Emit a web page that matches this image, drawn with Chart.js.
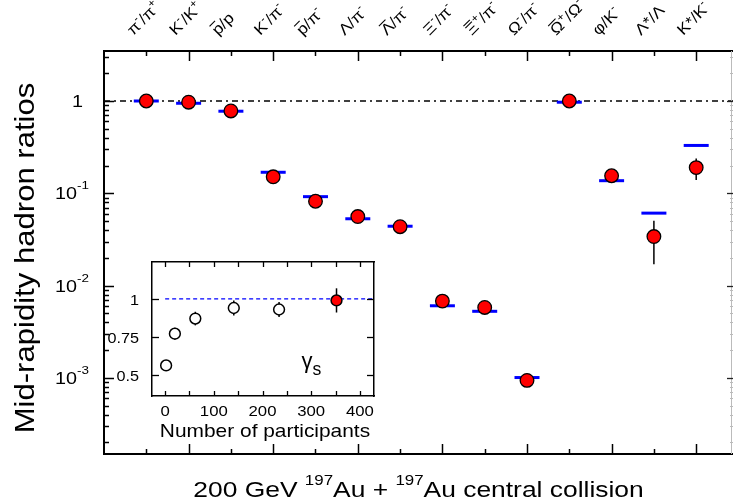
<!DOCTYPE html>
<html><head><meta charset="utf-8">
<script src="https://cdn.jsdelivr.net/npm/chart.js@4.4.1/dist/chart.umd.min.js"></script>
<style>
html,body{margin:0;padding:0;background:#fff;}
#wrap{position:relative;width:733px;height:503px;overflow:hidden;}
#main{position:absolute;left:0;top:0;}
#inset{position:absolute;left:106px;top:248px;}
</style></head><body>
<div id="wrap">
<canvas id="main" width="733" height="503"></canvas>
<canvas id="inset" width="290" height="200"></canvas>
</div>
<script>
// ---------------- data ----------------
const categories = ['π^-/π^+','K^-/K^+','~p/p','K^-/π^-','~p/π^-','Λ/π^-','~Λ/π^-','Ξ^-/π^-','~Ξ^+/π^-','Ω^-/π^-','~Ω^+/Ω^-','φ/K^-','Λ*/Λ','K*/K^-'];
const measuredRatios = [1.0, 0.97, 0.78, 0.151, 0.082, 0.056, 0.0435, 0.0068, 0.0058, 0.00094, 1.0, 0.155, 0.034, 0.19];
const measuredLow    = [0.96, 0.93, 0.74, 0.141, 0.076, 0.052, 0.040, 0.0063, 0.0053, 0.00086, 0.93, 0.145, 0.017, 0.139];
const measuredHigh   = [1.04, 1.01, 0.82, 0.161, 0.088, 0.060, 0.047, 0.0073, 0.0063, 0.00102, 1.07, 0.165, 0.0505, 0.239];
const modelRatios    = [1.0, 0.945, 0.775, 0.169, 0.092, 0.053, 0.044, 0.00605, 0.00527, 0.00101, 0.97, 0.137, 0.061, 0.33];
const yTickValues = [1, 0.1, 0.01, 0.001];
const yTickLabels = ['1', '10^{-1}', '10^{-2}', '10^{-3}'];
const xTitle = '200 GeV ^{197}Au + ^{197}Au central collision';
const yTitle = 'Mid-rapidity hadron ratios';

const nPart    = [2, 20, 62, 141, 234, 352];
const gammaS   = [0.56, 0.77, 0.87, 0.94, 0.93, 0.99];
const gammaErr = [0.02, 0.04, 0.045, 0.05, 0.05, 0.08];
const insetXTicks = [0, 100, 200, 300, 400];
const insetYTicks = [0.5, 0.75, 1];
const insetYTickLabels = ['0.5', '0.75', '1'];
const insetXTitle = 'Number of participants';
const insetLabel = 'γ_s';

// ---------------- rich text ----------------
const FAM = '"Liberation Sans", Arial, Helvetica, sans-serif';
function parseRich(s){
  const segs=[]; let i=0;
  while(i<s.length){
    let c=s[i];
    if(c==='^'||c==='_'){
      const type=c==='^'?'sup':'sub'; i++;
      let t;
      if(s[i]==='{'){const j=s.indexOf('}',i); t=s.slice(i+1,j); i=j+1;} else {t=s[i]; i++;}
      segs.push({t,type,bar:false}); continue;
    }
    let bar=false;
    if(c==='~'){bar=true; i++; c=s[i];}
    const last=segs[segs.length-1];
    if(!bar && last && last.type==='n' && !last.bar) last.t+=c;
    else segs.push({t:c,type:'n',bar});
    i++;
  }
  return segs;
}
function drawRich(ctx,str,x,y,o){
  const segs=parseRich(str);
  const size=o.size, ss=size*(o.supScale||0.65);
  let w=0;
  segs.forEach(sg=>{ctx.font=(sg.type==='n'?size:ss)+'px '+FAM; sg.w=ctx.measureText(sg.t).width; w+=sg.w;});
  ctx.save();
  ctx.translate(x,y);
  if(o.rot) ctx.rotate(o.rot);
  ctx.scale(o.sx||1,1);
  let cx=o.align==='right'?-w:(o.align==='center'?-w/2:0);
  ctx.fillStyle=o.color||'#000';
  ctx.textAlign='left'; ctx.textBaseline='alphabetic';
  segs.forEach(sg=>{
    ctx.font=(sg.type==='n'?size:ss)+'px '+FAM;
    const dy=sg.type==='sup'?-size*(o.supRise||0.45):(sg.type==='sub'?size*(o.subDrop||0.25):0);
    ctx.fillText(sg.t,cx,dy);
    if(sg.bar){ctx.fillRect(cx+sg.w*0.1,-size*0.86,sg.w*0.8,Math.max(1,size*0.07));}
    cx+=sg.w;
  });
  ctx.restore();
}
function seg(ctx,x1,y1,x2,y2){ctx.beginPath();ctx.moveTo(x1,y1);ctx.lineTo(x2,y2);ctx.stroke();}

// ---------------- main chart ----------------
const X_MAX = 14.87, Y_MIN = 1.5e-4, Y_MAX = 3.48;
const mainDecor = {
  id:'mainDecor',
  beforeDatasetsDraw(chart){
    const ctx=chart.ctx, xs=chart.scales.x, ys=chart.scales.y;
    ctx.save(); ctx.strokeStyle='#000'; ctx.lineWidth=1.5;
    measuredRatios.forEach((v,i)=>{
      const px=xs.getPixelForValue(i+1);
      seg(ctx,px,ys.getPixelForValue(measuredLow[i]),px,ys.getPixelForValue(measuredHigh[i]));
    });
    ctx.restore();
  },
  afterDraw(chart){
    const ctx=chart.ctx, xs=chart.scales.x, ys=chart.scales.y, ca=chart.chartArea;
    ctx.save();
    ctx.strokeStyle='#000'; ctx.lineWidth=1.5;
    for(let i=1;i<=categories.length;i++){
      const px=Math.round(xs.getPixelForValue(i))+0.5;
      const L=(i%2===0)?10:5;
      seg(ctx,px,ca.top,px,ca.top+L);
      seg(ctx,px,ca.bottom,px,ca.bottom-L);
    }
    // right axis (faint)
    ctx.strokeStyle='#bbb'; ctx.lineWidth=1;
    seg(ctx,ca.right-1.5,ca.top,ca.right-1.5,ca.bottom);
    for(let e=-4;e<=0;e++){
      for(let m=1;m<=9;m++){
        const v=m*Math.pow(10,e);
        if(v<Y_MIN||v>Y_MAX) continue;
        const py=Math.round(ys.getPixelForValue(v))+0.5;
        ctx.strokeStyle='#000'; ctx.lineWidth=1.5;
        seg(ctx,ca.left,py,ca.left+(m===1?10:5),py);
        if(m===1){ctx.strokeStyle='#222';ctx.lineWidth=1.3;seg(ctx,ca.right,py,ca.right-6,py);}
        else {ctx.strokeStyle='#bbb';ctx.lineWidth=1;seg(ctx,ca.right,py,ca.right-3,py);}
      }
    }
    // y tick labels
    yTickValues.forEach((v,i)=>{
      const py=ys.getPixelForValue(v);
      const lab=yTickLabels[i];
      if(lab.indexOf('^')>=0) drawRich(ctx,lab,55,py+6,{size:16.5,sx:1.2,supScale:0.68,supRise:0.6});
      else drawRich(ctx,lab,83,py+6,{size:16.5,sx:1.2,align:'right'});
    });
    // top category labels
    categories.forEach((c,i)=>{
      const px=xs.getPixelForValue(i+1);
      drawRich(ctx,c,px-13,36,{size:15.5,sx:1.12,rot:-Math.PI/4,supScale:0.68,supRise:0.45});
    });
    // titles
    drawRich(ctx,xTitle,(ca.left+ca.right)/2,497,{size:22,sx:1.2,align:'center',supScale:0.64,supRise:0.55});
    drawRich(ctx,yTitle,33.5,258,{size:28,sx:1.11,align:'center',rot:-Math.PI/2});
    ctx.restore();
  }
};
const brd = {display:true,color:'#000',width:2};
const noGrid = {display:false,drawTicks:false,tickLength:0};
new Chart(document.getElementById('main'),{
  type:'scatter',
  data:{datasets:[
    {label:'Measured',data:measuredRatios.map((v,i)=>({x:i+1,y:v})),pointRadius:6.8,pointHoverRadius:6.8,
     pointBackgroundColor:'#ff0000',pointBorderColor:'#000',pointBorderWidth:1.3,order:0},
    {label:'Thermal model',data:modelRatios.map((v,i)=>({x:i+1,y:v})),pointStyle:'line',pointRadius:12.5,pointHoverRadius:12.5,
     pointBorderColor:'#0000ff',pointBorderWidth:3,order:1},
    {type:'line',label:'unity',data:[{x:0,y:1},{x:X_MAX,y:1}],borderColor:'#000',borderWidth:1.4,
     borderDash:[6,4,2,4],pointRadius:0,order:2}
  ]},
  options:{
    responsive:false,animation:false,devicePixelRatio:1,
    layout:{autoPadding:false,padding:{left:104,top:51,right:0,bottom:49}},
    plugins:{legend:{display:false},tooltip:{enabled:false}},
    scales:{
      x:{type:'linear',position:'bottom',min:0,max:X_MAX,ticks:{display:false},grid:noGrid,border:brd},
      xTop:{type:'linear',position:'top',min:0,max:X_MAX,ticks:{display:false},grid:noGrid,border:brd},
      y:{type:'logarithmic',position:'left',min:Y_MIN,max:Y_MAX,ticks:{display:false},grid:noGrid,border:brd}
    }
  },
  plugins:[mainDecor]
});

// ---------------- inset ----------------
const IX_MIN=-27, IX_MAX=429, IY_MIN=0.358, IY_MAX=1.244;
const insetDecor = {
  id:'insetDecor',
  beforeDraw(chart){
    const ctx=chart.ctx, ca=chart.chartArea;
    ctx.save(); ctx.fillStyle='#fff'; ctx.fillRect(ca.left,ca.top,ca.right-ca.left,ca.bottom-ca.top); ctx.restore();
  },
  beforeDatasetsDraw(chart){
    const ctx=chart.ctx, xs=chart.scales.x, ys=chart.scales.y;
    ctx.save(); ctx.strokeStyle='#000'; ctx.lineWidth=1.5;
    nPart.forEach((n,i)=>{
      const px=xs.getPixelForValue(n);
      seg(ctx,px,ys.getPixelForValue(gammaS[i]-gammaErr[i]),px,ys.getPixelForValue(gammaS[i]+gammaErr[i]));
    });
    ctx.restore();
  },
  afterDraw(chart){
    const ctx=chart.ctx, xs=chart.scales.x, ys=chart.scales.y, ca=chart.chartArea;
    ctx.save(); ctx.strokeStyle='#000'; ctx.lineWidth=1.3;
    for(let v=0;v<=400;v+=50){
      const px=Math.round(xs.getPixelForValue(v))+0.5;
      seg(ctx,px,ca.bottom,px,ca.bottom-5);
      seg(ctx,px,ca.top,px,ca.top+5);
    }
    insetYTicks.forEach((v,i)=>{
      const py=Math.round(ys.getPixelForValue(v))+0.5;
      seg(ctx,ca.left,py,ca.left+7,py);
      seg(ctx,ca.right,py,ca.right-7,py);
      drawRich(ctx,insetYTickLabels[i],ca.left-13,py+5.5,{size:15,sx:1.08,align:'right'});
    });
    insetXTicks.forEach(v=>{
      drawRich(ctx,String(v),xs.getPixelForValue(v),168,{size:15.5,sx:1.08,align:'center'});
    });
    drawRich(ctx,insetXTitle,(ca.left+ca.right)/2+2,189,{size:19,sx:1.1,align:'center'});
    drawRich(ctx,insetLabel,xs.getPixelForValue(280),120,{size:22,supScale:0.8,subDrop:0.3});
    ctx.restore();
  }
};
const ibrd = {display:true,color:'#000',width:1.5};
new Chart(document.getElementById('inset'),{
  type:'scatter',
  data:{datasets:[
    {label:'gamma_s',data:nPart.map((n,i)=>({x:n,y:gammaS[i]})),pointRadius:5.4,pointHoverRadius:5.4,pointBorderWidth:1.5,
     pointBorderColor:'#000',pointBackgroundColor:c=>c.dataIndex===nPart.length-1?'#ff0000':'#ffffff',order:0},
    {type:'line',label:'unity',data:[{x:0,y:1},{x:IX_MAX,y:1}],borderColor:'#0000ff',borderWidth:1.2,
     borderDash:[4,3],pointRadius:0,order:1}
  ]},
  options:{
    responsive:false,animation:false,devicePixelRatio:1,
    layout:{autoPadding:false,padding:{left:46,top:14,right:22,bottom:52}},
    plugins:{legend:{display:false},tooltip:{enabled:false}},
    scales:{
      x:{type:'linear',position:'bottom',min:IX_MIN,max:IX_MAX,ticks:{display:false},grid:noGrid,border:ibrd},
      xTop:{type:'linear',position:'top',min:IX_MIN,max:IX_MAX,ticks:{display:false},grid:noGrid,border:ibrd},
      y:{type:'linear',position:'left',min:IY_MIN,max:IY_MAX,ticks:{display:false},grid:noGrid,border:ibrd},
      yRight:{type:'linear',position:'right',min:IY_MIN,max:IY_MAX,ticks:{display:false},grid:noGrid,border:ibrd}
    }
  },
  plugins:[insetDecor]
});
</script>
</body></html>
